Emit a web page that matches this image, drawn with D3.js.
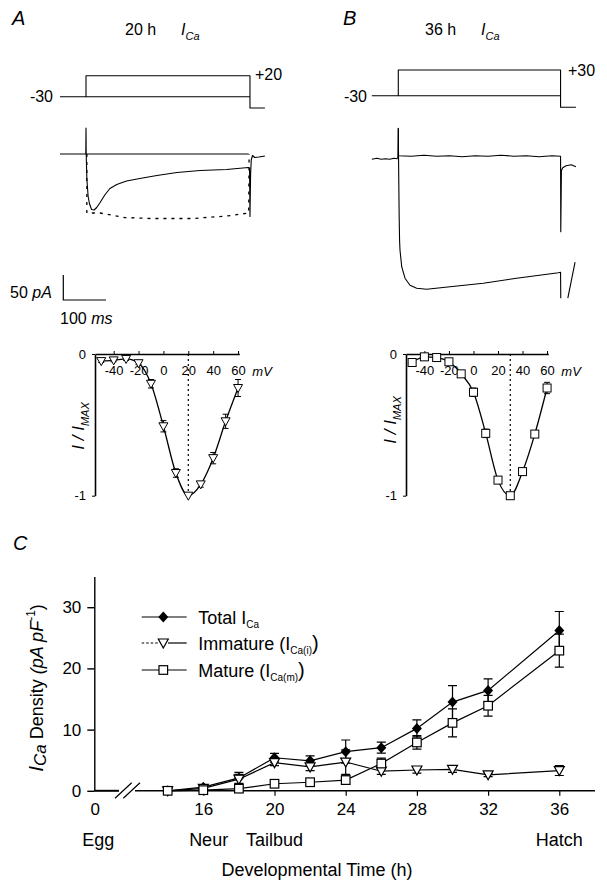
<!DOCTYPE html>
<html><head><meta charset="utf-8">
<script src="https://cdn.jsdelivr.net/npm/d3@7"></script>
<style>
body{margin:0;background:#fff}
svg{display:block}
text{font-family:'Liberation Sans',Arial,Helvetica,sans-serif;fill:#000}
</style>
</head><body>
<svg id="fig" width="607" height="891"></svg>
<script>
// ---------------- DATA ----------------
// Panel C: developmental time course of ICa density
const hours = [14,16,18,20,22,24,26,28,30,32,36];
const totalICa = [0,0.6,2.1,5.4,4.9,6.4,7.05,10.2,14.5,16.4,26.2];
const totalErr = [0,0.3,0.9,0.7,0.8,1.9,0.9,1.4,2.7,1.9,3.1];
const immatureICa = [0,0.4,1.9,4.6,3.9,4.7,3.2,3.4,3.5,2.6,3.3];
const immatureErr = [0,0.2,0.8,0.5,0.6,2.0,0.5,0.5,0.5,0.3,0.8];
const matureICa = [0,0.1,0.35,1.15,1.4,1.75,4.45,7.9,11.1,13.9,22.9];
const matureErr = [0,0.1,0.2,0.3,0.3,0.7,0.9,1.1,2.3,1.7,2.7];
const yTicksC = [0,10,20,30];
const xTicksC = [16,20,24,28,32,36];
const stageNames = ['Egg','Neur','Tailbud','Hatch'];
const stageHours = [0,16.3,20,36];
const legendNames = ['Total','Immature','Mature'];

// Panels A/B lower: normalized I-V relations
const ivVoltages = [-50,-40,-30,-20,-10,0,10,20,30,40,50,60];
const ivA = [-0.05,-0.045,-0.035,-0.065,-0.21,-0.51,-0.84,-1.0,-0.92,-0.735,-0.475,-0.24];
const ivAErr = [0.01,0.01,0.01,0.01,0.03,0.04,0.03,0,0.02,0.04,0.05,0.06];
const ivB = [-0.06,-0.02,-0.025,-0.055,-0.14,-0.27,-0.56,-0.89,-1.0,-0.83,-0.565,-0.24];
const ivBErr = [0.01,0.01,0.01,0.01,0.01,0.03,0.03,0.01,0,0.02,0.02,0.04];
const ivTicks = [-40,-20,0,20,40,60];
const ivPeakA = 20, ivPeakB = 30;

// Panels A/B upper: voltage protocols [ms, mV]
const protoA = [[-61,-30],[0,-30],[0,20],[384,20],[384,-57],[419,-57]];
const holdA = [[0,-30],[384,-30]];
const protoB = [[-62,-30],[0,-30],[0,30],[380,30],[380,-57],[416,-57]];
const holdB = [[0,-30],[380,-30]];

// Current traces [ms, pA]
const zeroA = [[0,0],[381,0]];
const traceA = [[-61,0],[-0.5,0],[0,52],[0.5,0],[2,-50],[5,-85],[8,-99],[13,-111],[19,-112],[25,-107],[33,-97],[44,-82],[56,-69],[72,-61],[95,-54],[126,-49],[166,-43],[213,-37],[267,-33],[329,-31],[380,-27],[383,-28],[384,-125],[385.5,-40],[387,-12],[390,-3],[395,-7],[405,-6],[419,-4]];
const traceAFit = [[2,0],[2,-118],[33,-118],[90,-127],[150,-129],[250,-129],[330,-124],[381,-118],[382,0]];
const zeroB = [[-62,-7],[-50,-5],[-40,-7],[-30,-6],[-20,-7],[-10,-5],[-3,-6],[-1,-3],[0,55],[0.5,0],[30,-1],[60,1],[90,-1],[120,0],[150,-2],[180,0],[210,-1],[240,1],[270,-1],[300,0],[330,-2],[360,0],[380,-1],[380.5,-152],[382,-30],[385,-24],[393,-20],[405,-18],[416,-22]];
const traceB = [[0,55],[0.5,0],[2,-120],[3,-170],[4,-189],[8,-222],[15.7,-245],[27.4,-259],[43,-265],[66.5,-267],[121,-262],[199,-255],[277,-245],[375,-234],[380,-233],[380.5,-285]];
const tailB = [[397,-285],[414,-213]];

// ---------------- DRAWING ----------------
const svg = d3.select('#fig');

function rich(parent, x, y, size, parts, attrs) {
  const t = parent.append('text').attr('x', x).attr('y', y).attr('font-size', size);
  if (attrs) for (const k in attrs) t.attr(k, attrs[k]);
  let shift = 0;
  parts.forEach(p => {
    const target = p.sub ? (p.shift || size * 0.3) : p.sup ? -(p.shift || size * 0.4) : 0;
    const ts = t.append('tspan').text(p.t).attr('font-size', p.size || size).attr('dy', target - shift);
    if (p.it) ts.attr('font-style', 'italic');
    shift = target;
  });
  return t;
}

function pathLine(g, data, xs, ys, w, dash) {
  const p = g.append('path').datum(data)
    .attr('d', d3.line().x(d => xs(d[0])).y(d => ys(d[1])))
    .attr('fill', 'none').attr('stroke', '#000').attr('stroke-width', w || 1.1)
    .attr('stroke-linejoin', 'round');
  if (dash) p.attr('stroke-dasharray', dash);
  return p;
}

// ===== Panel A top =====
{
  const g = svg.append('g');
  const tx = d3.scaleLinear().domain([0, 100]).range([86, 128.7]);
  const vy = d3.scaleLinear().domain([-30, 20]).range([96.7, 75.7]);
  const iy = d3.scaleLinear().domain([0, -50]).range([154, 179]);
  rich(g, 12, 25, 20, [{t:'A', it:true}]);
  rich(g, 125, 35, 16, [{t:'20 h'}]);
  rich(g, 181, 35, 16, [{t:'I', it:true},{t:'Ca', it:true, sub:true, size:11, shift:5}]);
  pathLine(g, protoA, tx, vy, 1.1);
  pathLine(g, holdA, tx, vy, 1.1);
  rich(g, 53, 102, 16, [{t:'-30'}], {'text-anchor':'end'});
  rich(g, 255, 80, 16, [{t:'+20'}]);
  pathLine(g, zeroA, tx, iy, 1.1);
  pathLine(g, traceAFit, tx, iy, 1.3, '3,5');
  pathLine(g, traceA, tx, iy, 1.1);
  // scale bar: 50 pA, 100 ms
  const bx = 63.3, by = 300;
  g.append('path').attr('d', `M${bx},${by - (iy(-50) - iy(0))}V${by}H${bx + (tx(100) - tx(0))}`)
    .attr('fill','none').attr('stroke','#000').attr('stroke-width',1.2);
  rich(g, 10, 298, 16, [{t:'50 '},{t:'pA', it:true}]);
  rich(g, 60, 324, 16, [{t:'100 '},{t:'ms', it:true}]);
}

// ===== Panel B top =====
{
  const g = svg.append('g');
  const tx = d3.scaleLinear().domain([0, 100]).range([398.3, 441]);
  const vy = d3.scaleLinear().domain([-30, 30]).range([95.7, 70]);
  const iy = d3.scaleLinear().domain([0, -50]).range([155.7, 180.7]);
  rich(g, 343, 25, 20, [{t:'B', it:true}]);
  rich(g, 425, 35, 16, [{t:'36 h'}]);
  rich(g, 481, 35, 16, [{t:'I', it:true},{t:'Ca', it:true, sub:true, size:11, shift:5}]);
  pathLine(g, protoB, tx, vy, 1.1);
  pathLine(g, holdB, tx, vy, 1.1);
  rich(g, 367, 102, 16, [{t:'-30'}], {'text-anchor':'end'});
  rich(g, 568, 76, 16, [{t:'+30'}]);
  pathLine(g, zeroB, tx, iy, 1.1);
  pathLine(g, traceB, tx, iy, 1.1);
  pathLine(g, tailB, tx, iy, 1.1);
}

// ===== I-V panels =====
function ivPanel(x0, x1, vals, errs, peak, marker, labelX, labelCy) {
  const g = svg.append('g');
  const xs = d3.scaleLinear().domain([-55, 61]).range([x0, x1]);
  const ys = d3.scaleLinear().domain([-1, 0]).range([495.7, 354]);
  // dotted line at peak voltage
  g.append('line').attr('x1', xs(peak)).attr('x2', xs(peak)).attr('y1', ys(0)).attr('y2', ys(-1))
    .attr('stroke','#000').attr('stroke-width',1.2).attr('stroke-dasharray','2,3');
  const ax = d3.axisBottom(xs).tickValues(ivTicks).tickSize(-3).tickPadding(12).tickSizeOuter(0)
    .tickFormat(d => String(d));
  const gx = g.append('g').attr('transform', `translate(0,${ys(0)})`).call(ax);
  gx.selectAll('text').attr('font-size', 13).attr('font-family', null);
  gx.select('.domain').attr('stroke-width', 1.3);
  const ay = d3.axisLeft(ys).tickValues([-1, 0]).tickSize(3).tickPadding(6).tickSizeOuter(0)
    .tickFormat(d => d === 0 ? '0' : '-1');
  const gy = g.append('g').attr('transform', `translate(${x0},0)`).call(ay);
  gy.selectAll('text').attr('font-size', 13).attr('font-family', null);
  gy.select('.domain').attr('stroke-width', 1.6);
  rich(g, x1 + 13, 376, 13, [{t:'mV', it:true}]);
  rich(g, 0, 0, 17, [{t:'I / I', it:true},{t:'MAX', it:true, sub:true, size:11, shift:5}],
    {'text-anchor':'middle', transform:`translate(${labelX},${labelCy}) rotate(-90)`});
  const pts = ivVoltages.map((v, i) => ({v, y: vals[i], e: errs[i]}));
  g.append('path').datum(pts)
    .attr('d', d3.line().curve(d3.curveMonotoneX).x(d => xs(d.v)).y(d => ys(d.y)))
    .attr('fill','none').attr('stroke','#000').attr('stroke-width',1.3);
  pts.filter(d => d.e > 0).forEach(d => {
    const cx = xs(d.v);
    g.append('path').attr('d', `M${cx},${ys(d.y - d.e)}V${ys(d.y + d.e)}M${cx-3},${ys(d.y - d.e)}H${cx+3}M${cx-3},${ys(d.y + d.e)}H${cx+3}`)
      .attr('stroke','#000').attr('stroke-width',1).attr('fill','none');
  });
  pts.forEach(d => {
    const cx = xs(d.v), cy = ys(d.y);
    if (marker === 'tri') {
      g.append('path').attr('d', `M${cx-4.5},${cy-3.5}L${cx+4.5},${cy-3.5}L${cx},${cy+4.5}Z`)
        .attr('fill','#fff').attr('stroke','#000').attr('stroke-width',1);
    } else {
      g.append('rect').attr('x', cx-4).attr('y', cy-4).attr('width', 8).attr('height', 8)
        .attr('fill','#fff').attr('stroke','#000').attr('stroke-width',1);
    }
  });
}
ivPanel(95, 239.3, ivA, ivAErr, ivPeakA, 'tri', 84, 426);
ivPanel(406, 548.3, ivB, ivBErr, ivPeakB, 'sq', 396, 420);

// ===== Panel C =====
{
  const g = svg.append('g');
  const xC = d3.scaleLinear().domain([24, 36]).range([345.7, 559.3]);
  const yC = d3.scaleLinear().domain([0, 35]).range([790.8, 576.6]);
  const yAxisX = 94.3;
  const xPos = h => h === 0 ? yAxisX + 1 : xC(h);
  rich(g, 13, 550, 20, [{t:'C', it:true}]);

  // y axis
  const ay = d3.axisLeft(yC).tickValues(yTicksC).tickSize(7).tickPadding(6).tickSizeOuter(0);
  const gy = g.append('g').attr('transform', `translate(${yAxisX},0)`).call(ay);
  gy.selectAll('text').attr('font-size', 17).attr('font-family', null);
  gy.selectAll('line,path').attr('stroke-width', 1.4);

  // x axis (broken)
  const y0 = yC(0);
  g.append('line').attr('x1', yAxisX).attr('x2', 119).attr('y1', y0).attr('y2', y0)
    .attr('stroke','#000').attr('stroke-width',2);
  g.append('line').attr('x1', 135).attr('x2', 595).attr('y1', y0).attr('y2', y0)
    .attr('stroke','#000').attr('stroke-width',1.4);
  g.append('path').attr('d', `M115,${y0+7.5}L131.7,${y0-8}M123.3,${y0+7.5}L140,${y0-8}`)
    .attr('stroke','#000').attr('stroke-width',1.2).attr('fill','none');
  const ax = d3.axisBottom(xC).tickValues(xTicksC).tickSize(5).tickPadding(7).tickSizeOuter(0);
  const gx = g.append('g').attr('transform', `translate(0,${y0})`).call(ax);
  gx.select('.domain').remove();
  gx.selectAll('text').attr('font-size', 17).attr('font-family', null);
  gx.selectAll('line').attr('stroke-width', 1.2);
  g.append('text').attr('x', xPos(0)).attr('y', 815).attr('font-size', 17)
    .attr('text-anchor','middle').text('0');
  stageNames.forEach((s, i) => {
    g.append('text').attr('x', xPos(stageHours[i]) + (stageHours[i] === 0 ? 3 : 0)).attr('y', 846)
      .attr('font-size', 18).attr('text-anchor','middle').text(s);
  });
  g.append('text').attr('x', 317).attr('y', 876).attr('font-size', 18)
    .attr('text-anchor','middle').text('Developmental Time (h)');

  // y label
  rich(g, 0, 0, 18, [
    {t:'I', it:true, size:21},
    {t:'Ca', it:true, sub:true, size:17, shift:3},
    {t:' Density '},
    {t:'(pA pF', it:true},
    {t:'-1', sup:true, size:12, shift:8},
    {t:')'}
  ], {'text-anchor':'middle', transform:'translate(43,688) rotate(-90)'});

  const series = [
    {vals: totalICa, errs: totalErr, m: 'dia'},
    {vals: immatureICa, errs: immatureErr, m: 'tri'},
    {vals: matureICa, errs: matureErr, m: 'sq'}
  ];
  const line = d3.line().x(d => xC(d.h)).y(d => yC(d.v));
  series.forEach(s => {
    s.pts = hours.map((h, i) => ({h, v: s.vals[i], e: s.errs[i]}));
    g.append('path').datum(s.pts).attr('d', line).attr('fill','none')
      .attr('stroke','#000').attr('stroke-width', 1.2);
  });
  series.forEach(s => {
    s.pts.filter(d => d.e > 0).forEach(d => {
      const cx = xC(d.h), t = yC(d.v + d.e), b = yC(d.v - d.e);
      g.append('path').attr('d', `M${cx},${t}V${b}M${cx-4.5},${t}H${cx+4.5}M${cx-4.5},${b}H${cx+4.5}`)
        .attr('stroke','#000').attr('stroke-width',1.2).attr('fill','none');
    });
  });
  function marker(gg, m, cx, cy) {
    if (m === 'dia') {
      gg.append('path').attr('d', `M${cx},${cy-5.5}L${cx+5},${cy}L${cx},${cy+5.5}L${cx-5},${cy}Z`).attr('fill','#000');
    } else if (m === 'tri') {
      gg.append('path').attr('d', `M${cx-5},${cy-4}L${cx+5},${cy-4}L${cx},${cy+5}Z`)
        .attr('fill','#fff').attr('stroke','#000').attr('stroke-width',1.2);
    } else {
      gg.append('rect').attr('x', cx-4.3).attr('y', cy-4.3).attr('width', 8.6).attr('height', 8.6)
        .attr('fill','#fff').attr('stroke','#000').attr('stroke-width',1.2);
    }
  }
  series.forEach(s => s.pts.forEach(d => marker(g, s.m, xC(d.h), yC(d.v))));

  // legend
  const rows = [617, 643, 670];
  const subs = [
    [{t:'Total I'},{t:'Ca', sub:true, size:10, shift:4}],
    [{t:'Immature (I'},{t:'Ca(i)', sub:true, size:10, shift:4},{t:')', size:20}],
    [{t:'Mature (I'},{t:'Ca(m)', sub:true, size:10, shift:4},{t:')', size:20}]
  ];
  legendNames.forEach((nm, i) => {
    const y = rows[i];
    if (series[i].m === 'tri') {
      g.append('line').attr('x1',141.7).attr('x2',158).attr('y1',y).attr('y2',y)
        .attr('stroke','#000').attr('stroke-width',1).attr('stroke-dasharray','2.5,2');
      g.append('line').attr('x1',168).attr('x2',186.7).attr('y1',y).attr('y2',y)
        .attr('stroke','#000').attr('stroke-width',1.2);
    } else {
      g.append('line').attr('x1',141.7).attr('x2',186.7).attr('y1',y).attr('y2',y)
        .attr('stroke','#000').attr('stroke-width',1.2);
    }
    marker(g, series[i].m, 163.3, y);
    rich(g, 198.3, y + 7, 18, subs[i]);
  });
}
</script>
</body></html>
